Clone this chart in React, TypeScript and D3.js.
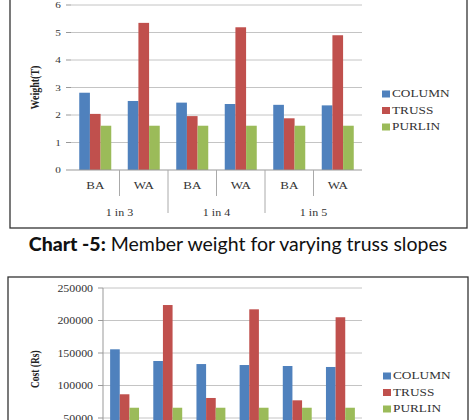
import React, { useEffect, useRef } from "react";
import * as d3 from "d3";

// category axis
const types = ["BA", "WA", "BA", "WA", "BA", "WA"];
const slopes = ["1 in 3", "1 in 4", "1 in 5"];
const seriesNames = ["COLUMN", "TRUSS", "PURLIN"];
const colors = ["#4F81BD", "#C0504D", "#9BBB59"];

// member weight (T)
const weightColumn = [2.81, 2.51, 2.45, 2.4, 2.37, 2.35];
const weightTruss = [2.04, 5.35, 1.96, 5.19, 1.88, 4.9];
const weightPurlin = [1.61, 1.61, 1.61, 1.61, 1.61, 1.61];
const weightTicks = [0, 1, 2, 3, 4, 5, 6];

// member cost (Rs)
const costColumn = [155700, 137700, 133000, 131500, 130000, 128500];
const costTruss = [86500, 223800, 80800, 217200, 77200, 205000];
const costPurlin = [65800, 65800, 65800, 65800, 65800, 65800];
const costTicks = [0, 50000, 100000, 150000, 200000, 250000];

const serif = "'Liberation Serif', 'Times New Roman', serif";

// wide serif text, stretched horizontally like the exported Excel chart
function label(g, x, y, text, opts: any = {}) {
  const sx = opts.sx ?? 1.3;
  return g
    .append("text")
    .attr("transform", `translate(${x},${y}) scale(${sx},1)`)
    .attr("text-anchor", opts.anchor ?? "middle")
    .attr("dominant-baseline", "central")
    .attr("font-family", serif)
    .attr("font-size", opts.size ?? 10)
    .attr("font-weight", opts.weight ?? "normal")
    .attr("fill", "#333")
    .text(text);
}

function drawChart(svg, cfg) {
  const { frame, x0, x1, yTop, yBottom, ticks, values, yTitle, legendX, legendY } = cfg;
  const g = svg.append("g");

  // outer frame
  g.append("rect")
    .attr("x", frame[0])
    .attr("y", frame[1])
    .attr("width", frame[2] - frame[0])
    .attr("height", frame[3] - frame[1])
    .attr("fill", "#fff")
    .attr("stroke", "#333")
    .attr("stroke-width", 1.3);

  const y = d3
    .scaleLinear()
    .domain([0, d3.max(ticks)])
    .range([yBottom, yTop]);

  const x = d3
    .scaleBand()
    .domain(d3.range(types.length).map(String))
    .range([x0, x1])
    .paddingInner(cfg.pad)
    .paddingOuter(cfg.pad / 2);

  const xs = d3.scaleBand().domain(seriesNames).range([0, x.bandwidth()]);

  // gridlines
  g.append("g")
    .selectAll("line")
    .data(ticks.filter((t) => t > 0))
    .join("line")
    .attr("x1", x0)
    .attr("x2", x1)
    .attr("y1", (d) => y(d))
    .attr("y2", (d) => y(d))
    .attr("stroke", "#c4c4c4")
    .attr("stroke-width", 1);

  // tick marks and value labels
  ticks.forEach((t) => {
    g.append("line")
      .attr("x1", x0 - 5)
      .attr("x2", x0)
      .attr("y1", y(t))
      .attr("y2", y(t))
      .attr("stroke", "#999");
    label(g, x0 - 10, y(t), cfg.format(t), { anchor: "end", size: cfg.tickSize, sx: 1.25 });
  });

  if (cfg.axisLine) {
    g.append("line")
      .attr("x1", x0)
      .attr("x2", x0)
      .attr("y1", yTop)
      .attr("y2", yBottom)
      .attr("stroke", "#999");
  }

  // bars
  seriesNames.forEach((s, si) => {
    g.append("g")
      .attr("fill", colors[si])
      .selectAll("rect")
      .data(values[si])
      .join("rect")
      .attr("x", (d, i) => x(String(i)) + xs(s))
      .attr("y", (d) => y(d))
      .attr("width", xs.bandwidth())
      .attr("height", (d) => y(0) - y(d));
  });

  // category axis
  g.append("line")
    .attr("x1", x0)
    .attr("x2", x1)
    .attr("y1", yBottom)
    .attr("y2", yBottom)
    .attr("stroke", "#999");

  const step = x.step();
  d3.range(1, types.length).forEach((i) => {
    const long = i % 2 === 0;
    g.append("line")
      .attr("x1", x0 + i * step)
      .attr("x2", x0 + i * step)
      .attr("y1", yBottom)
      .attr("y2", yBottom + (long ? 43 : 26))
      .attr("stroke", "#aaa");
  });

  types.forEach((t, i) => {
    label(g, x0 + (i + 0.5) * step, yBottom + 16, t, { size: 10 });
  });
  slopes.forEach((s, i) => {
    label(g, x0 + (i * 2 + 1) * step, yBottom + 42, s, { size: 10, sx: 1.2 });
  });

  // axis title
  g.append("text")
    .attr("transform", `translate(35,${(yTop + yBottom) / 2}) rotate(-90) scale(1,1.25)`)
    .attr("text-anchor", "middle")
    .attr("dominant-baseline", "central")
    .attr("font-family", serif)
    .attr("font-size", cfg.titleSize)
    .attr("font-weight", "bold")
    .attr("fill", "#222")
    .text(yTitle);

  // legend
  seriesNames.forEach((s, si) => {
    const ly = legendY + si * 16.5;
    g.append("rect")
      .attr("x", legendX)
      .attr("y", ly - 3.5)
      .attr("width", 8)
      .attr("height", 7)
      .attr("fill", colors[si]);
    label(g, legendX + 10, ly, s, { anchor: "start", size: 9.5, sx: 1.4 });
  });
}

const App = () => {
  const ref = useRef(null);

  useEffect(() => {
    const width = 475;
    const height = 420;
    d3.select(ref.current).selectAll("*").remove();

    const svg = d3
      .select(ref.current)
      .append("svg")
      .attr("width", width)
      .attr("height", height)
      .attr("style", "position:absolute;left:0;top:0;background:#fff");

    drawChart(svg, {
      frame: [10, -20, 467, 228],
      x0: 71,
      x1: 362,
      yTop: 5,
      yBottom: 170,
      pad: 0.34,
      ticks: weightTicks,
      values: [weightColumn, weightTruss, weightPurlin],
      format: d3.format("d"),
      tickSize: 9,
      yTitle: "Weight(T)",
      titleSize: 10,
      legendX: 382,
      legendY: 94,
      axisLine: false,
    });

    drawChart(svg, {
      frame: [8, 277, 468, 520],
      x0: 103,
      x1: 362,
      yTop: 288,
      yBottom: 450.5,
      pad: 0.33,
      ticks: costTicks,
      values: [costColumn, costTruss, costPurlin],
      format: d3.format("d"),
      tickSize: 9.5,
      yTitle: "Cost (Rs)",
      titleSize: 9.5,
      legendX: 383,
      legendY: 376,
      axisLine: true,
    });

    // caption between the two charts
    svg
      .append("text")
      .attr("x", 238)
      .attr("y", 251)
      .attr("text-anchor", "middle")
      .attr("font-family", "Lato, 'Open Sans', sans-serif")
      .attr("font-size", 19.5)
      .attr("fill", "#111")
      .call((t) => t.append("tspan").attr("font-weight", "900").text("Chart -5:"))
      .call((t) => t.append("tspan").text(" Member weight for varying truss slopes"));
  }, []);

  return <div ref={ref}></div>;
};

export default App;
